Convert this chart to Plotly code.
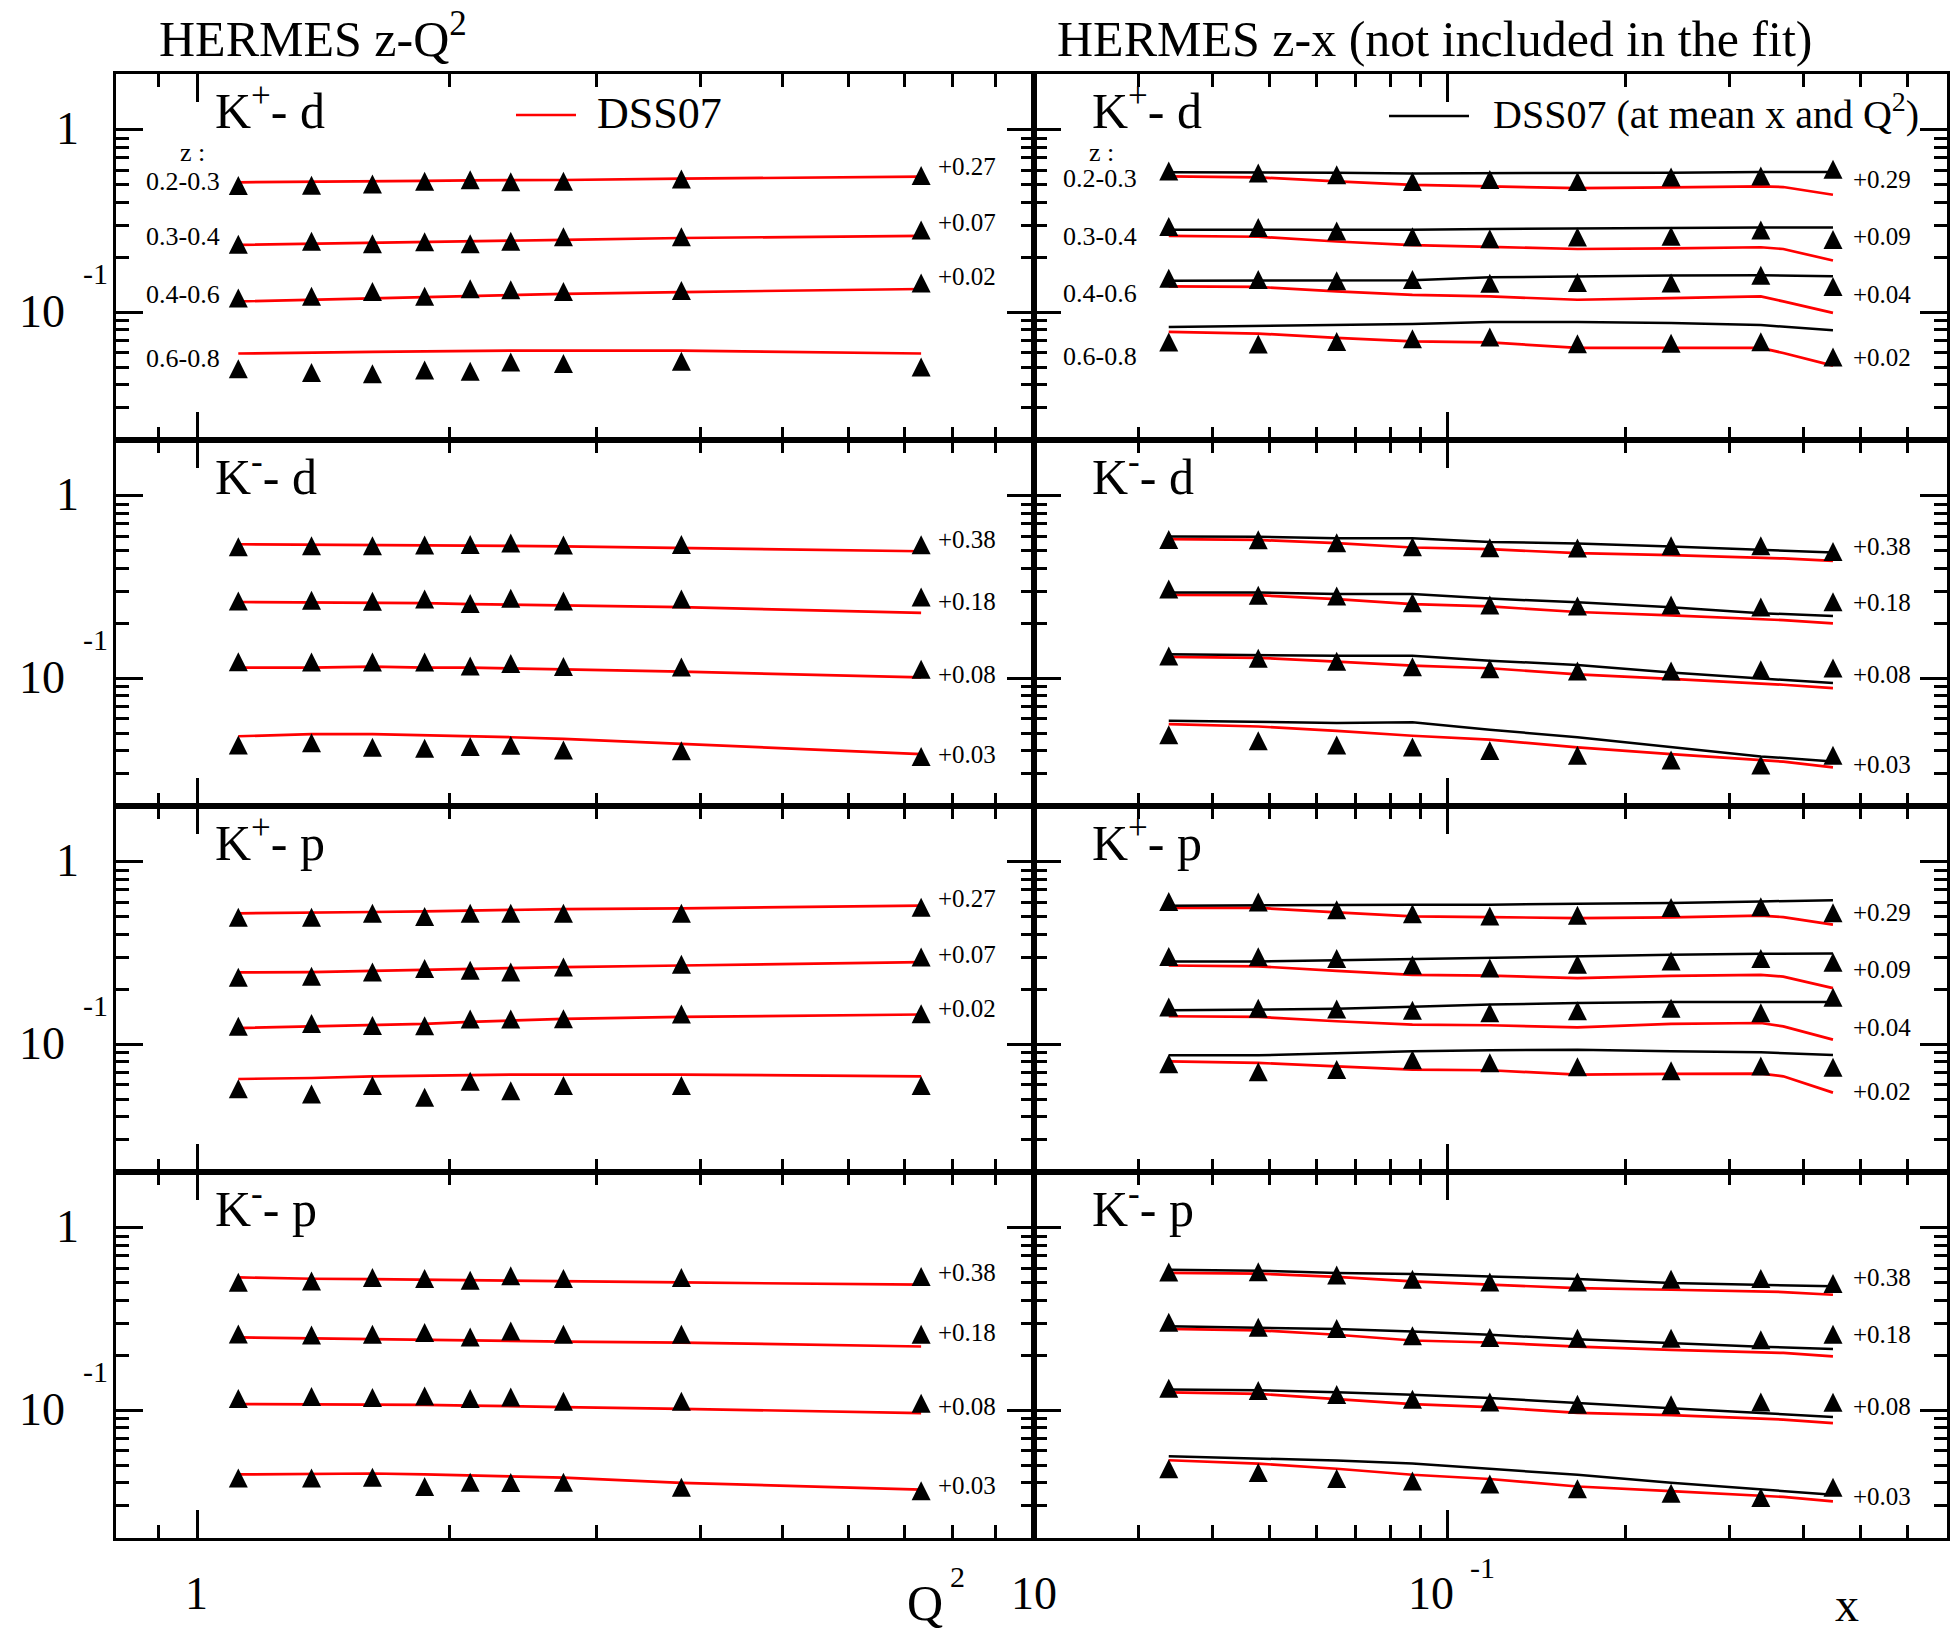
import math
import plotly.graph_objects as go

W, H = 1957, 1631

# ---------------- data ----------------
Q2 = [1.12, 1.37, 1.62, 1.87, 2.12, 2.37, 2.74, 3.79, 7.33]
XB = [0.0338, 0.0479, 0.065, 0.0873, 0.118, 0.166, 0.239, 0.339, 0.449]
XC = [0.0338, 0.0479, 0.065, 0.0873, 0.118, 0.166, 0.239, 0.339, 0.37, 0.449]

ZBINS = ["0.2-0.3", "0.3-0.4", "0.4-0.6", "0.6-0.8"]

# K+ - d, z-Q2
kpd_q2_data = [
    [0.494, 0.496, 0.504, 0.521, 0.532, 0.518, 0.521, 0.537, 0.561],
    [0.236, 0.245, 0.237, 0.243, 0.237, 0.245, 0.259, 0.259, 0.282],
    [0.1195, 0.1223, 0.130, 0.1223, 0.1344, 0.1327, 0.130, 0.1317, 0.1445],
    [0.049, 0.0467, 0.0460, 0.0482, 0.0475, 0.0533, 0.0524, 0.0539, 0.0501],
]
kpd_q2_dss = [
    [0.515, 0.517, 0.519, 0.524, 0.528, 0.528, 0.530, 0.539, 0.553],
    [0.234, 0.237, 0.239, 0.242, 0.244, 0.247, 0.249, 0.255, 0.262],
    [0.1146, 0.117, 0.1195, 0.121, 0.1235, 0.1245, 0.126, 0.129, 0.134],
    [0.0594, 0.0603, 0.0606, 0.0611, 0.0616, 0.0616, 0.0616, 0.0616, 0.0594],
]
# K+ - d, z-x
kpd_x_data = [
    [0.594, 0.579, 0.566, 0.520, 0.533, 0.520, 0.550, 0.558, 0.607],
    [0.295, 0.291, 0.279, 0.259, 0.253, 0.258, 0.261, 0.282, 0.250],
    [0.1535, 0.151, 0.1485, 0.151, 0.1439, 0.1455, 0.1445, 0.1593, 0.1385],
    [0.0686, 0.0669, 0.0692, 0.0715, 0.0731, 0.0672, 0.0676, 0.0689, 0.0569],
]
kpd_x_mean = [
    [0.584, 0.584, 0.581, 0.576, 0.576, 0.579, 0.581, 0.586, 0.586],
    [0.283, 0.283, 0.283, 0.283, 0.286, 0.288, 0.289, 0.291, 0.291],
    [0.1488, 0.1488, 0.1497, 0.1497, 0.1554, 0.1573, 0.1588, 0.1594, 0.1573],
    [0.0831, 0.0843, 0.0850, 0.0861, 0.0883, 0.0883, 0.0872, 0.0850, 0.0796],
]
kpd_x_dss = [
    [0.555, 0.548, 0.521, 0.499, 0.489, 0.479, 0.483, 0.489, 0.485, 0.440],
    [0.262, 0.259, 0.244, 0.233, 0.228, 0.222, 0.224, 0.227, 0.222, 0.192],
    [0.1385, 0.1375, 0.130, 0.1245, 0.122, 0.117, 0.1195, 0.122, 0.1146, 0.0991],
    [0.0780, 0.0764, 0.0723, 0.0693, 0.0684, 0.0637, 0.0637, 0.0637, 0.0598, 0.0510],
]
# K- - d, z-Q2
kmd_q2_data = [
    [0.525, 0.531, 0.531, 0.537, 0.541, 0.550, 0.537, 0.541, 0.539],
    [0.265, 0.267, 0.264, 0.272, 0.257, 0.274, 0.265, 0.272, 0.279],
    [0.1230, 0.1226, 0.1226, 0.1226, 0.1167, 0.1204, 0.1160, 0.1151, 0.1119],
    [0.0431, 0.0443, 0.0418, 0.0413, 0.0422, 0.0429, 0.0404, 0.0401, 0.0372],
]
kmd_q2_dss = [
    [0.542, 0.540, 0.537, 0.535, 0.533, 0.531, 0.527, 0.518, 0.496],
    [0.2616, 0.2597, 0.2597, 0.2576, 0.2546, 0.2526, 0.2517, 0.2452, 0.2281],
    [0.1143, 0.1143, 0.1158, 0.1143, 0.1143, 0.1128, 0.1119, 0.1087, 0.1011],
    [0.0481, 0.0494, 0.0494, 0.0488, 0.0484, 0.0475, 0.0465, 0.0436, 0.0384],
]
# K- - d, z-x
kmd_x_data = [
    [0.576, 0.574, 0.553, 0.525, 0.519, 0.517, 0.531, 0.531, 0.495],
    [0.308, 0.285, 0.282, 0.259, 0.2515, 0.249, 0.2515, 0.2455, 0.262],
    [0.1325, 0.1287, 0.1238, 0.1155, 0.1126, 0.1095, 0.1095, 0.1114, 0.1136],
    [0.0490, 0.0455, 0.0431, 0.0420, 0.0402, 0.0378, 0.0357, 0.0335, 0.0378],
]
kmd_x_mean = [
    [0.598, 0.595, 0.585, 0.585, 0.558, 0.547, 0.527, 0.505, 0.488],
    [0.295, 0.295, 0.289, 0.289, 0.273, 0.2605, 0.245, 0.227, 0.2195],
    [0.1353, 0.1337, 0.1327, 0.1327, 0.1248, 0.1181, 0.1076, 0.0998, 0.0940],
    [0.0585, 0.0578, 0.0569, 0.0574, 0.0522, 0.0475, 0.0418, 0.0373, 0.0350],
]
kmd_x_dss = [
    [0.578, 0.572, 0.549, 0.520, 0.509, 0.484, 0.472, 0.458, 0.453, 0.439],
    [0.286, 0.285, 0.271, 0.2546, 0.2472, 0.2306, 0.2209, 0.2118, 0.2081, 0.1995],
    [0.1310, 0.1294, 0.1232, 0.1172, 0.1134, 0.1051, 0.0993, 0.0941, 0.0921, 0.0883],
    [0.0560, 0.0544, 0.0515, 0.0484, 0.0461, 0.0418, 0.0384, 0.0357, 0.0349, 0.0325],
]
# K+ - p, z-Q2
kpp_q2_data = [
    [0.496, 0.496, 0.522, 0.501, 0.522, 0.522, 0.522, 0.522, 0.563],
    [0.233, 0.236, 0.2485, 0.2595, 0.254, 0.2485, 0.265, 0.274, 0.300],
    [0.1253, 0.1300, 0.1268, 0.1261, 0.1375, 0.1375, 0.1380, 0.1464, 0.1470],
    [0.0570, 0.0533, 0.0595, 0.0512, 0.0626, 0.0556, 0.0595, 0.0595, 0.0595],
]
kpp_q2_dss = [
    [0.521, 0.524, 0.530, 0.534, 0.539, 0.544, 0.550, 0.555, 0.574],
    [0.2472, 0.2484, 0.2525, 0.2557, 0.259, 0.2612, 0.2646, 0.2700, 0.2818],
    [0.1226, 0.1253, 0.1270, 0.1291, 0.1325, 0.1347, 0.1377, 0.1412, 0.1455],
    [0.0645, 0.0653, 0.0667, 0.0673, 0.0679, 0.0682, 0.0682, 0.0682, 0.0667],
]
# K+ - p, z-x
kpp_x_data = [
    [0.605, 0.602, 0.545, 0.518, 0.504, 0.509, 0.561, 0.566, 0.525],
    [0.302, 0.301, 0.295, 0.272, 0.2616, 0.274, 0.286, 0.295, 0.281],
    [0.1598, 0.1574, 0.1558, 0.1533, 0.1485, 0.1526, 0.1572, 0.1485, 0.181],
    [0.0781, 0.0706, 0.0726, 0.0822, 0.0792, 0.0752, 0.0715, 0.0760, 0.0749],
]
kpp_x_mean = [
    [0.574, 0.579, 0.579, 0.581, 0.581, 0.589, 0.594, 0.606, 0.614],
    [0.284, 0.284, 0.288, 0.293, 0.2965, 0.3027, 0.309, 0.313, 0.314],
    [0.1535, 0.1549, 0.1562, 0.1602, 0.1648, 0.1683, 0.1705, 0.1705, 0.1705],
    [0.0869, 0.0869, 0.0891, 0.0915, 0.0926, 0.0934, 0.0915, 0.0903, 0.0872],
]
kpp_x_dss = [
    [0.558, 0.558, 0.527, 0.501, 0.497, 0.491, 0.495, 0.506, 0.497, 0.452],
    [0.270, 0.267, 0.2525, 0.2398, 0.2376, 0.230, 0.2366, 0.2398, 0.2347, 0.203],
    [0.1423, 0.1412, 0.1336, 0.1281, 0.1270, 0.1238, 0.1291, 0.1307, 0.1253, 0.1060],
    [0.0806, 0.0790, 0.0757, 0.0726, 0.0720, 0.0682, 0.0688, 0.0690, 0.0667, 0.0543],
]
# K- - p, z-Q2
kmp_q2_data = [
    [0.503, 0.511, 0.533, 0.527, 0.515, 0.545, 0.527, 0.533, 0.540],
    [0.2616, 0.258, 0.2606, 0.2662, 0.252, 0.2718, 0.2606, 0.2606, 0.2606],
    [0.1158, 0.1189, 0.1173, 0.1197, 0.1158, 0.1182, 0.1119, 0.1119, 0.1093],
    [0.0425, 0.0425, 0.0429, 0.0382, 0.0403, 0.0402, 0.0403, 0.0379, 0.0362],
]
kmp_q2_dss = [
    [0.534, 0.525, 0.523, 0.519, 0.517, 0.515, 0.512, 0.501, 0.487],
    [0.2505, 0.2472, 0.2462, 0.243, 0.2411, 0.240, 0.2377, 0.2346, 0.2234],
    [0.1080, 0.1080, 0.1080, 0.1071, 0.1061, 0.1048, 0.1040, 0.1018, 0.0964],
    [0.0445, 0.0450, 0.0450, 0.0445, 0.0439, 0.0435, 0.0427, 0.0400, 0.0367],
]
# K- - p, z-x
kmp_x_data = [
    [0.571, 0.573, 0.550, 0.521, 0.504, 0.504, 0.522, 0.527, 0.495],
    [0.303, 0.285, 0.280, 0.256, 0.2505, 0.248, 0.248, 0.243, 0.2606],
    [0.1318, 0.1284, 0.1220, 0.1148, 0.1109, 0.1077, 0.1071, 0.1109, 0.1105],
    [0.0478, 0.0456, 0.0423, 0.0410, 0.0394, 0.0371, 0.0351, 0.0333, 0.0378],
]
kmp_x_mean = [
    [0.589, 0.581, 0.565, 0.558, 0.541, 0.523, 0.497, 0.487, 0.477],
    [0.288, 0.282, 0.279, 0.270, 0.259, 0.2447, 0.2330, 0.2228, 0.2166],
    [0.1297, 0.1287, 0.1253, 0.1216, 0.1166, 0.1093, 0.1024, 0.0967, 0.0917],
    [0.0559, 0.0541, 0.0530, 0.0510, 0.0477, 0.0443, 0.0401, 0.0367, 0.0344],
]
kmp_x_dss = [
    [0.565, 0.560, 0.537, 0.508, 0.487, 0.467, 0.457, 0.448, 0.444, 0.429],
    [0.279, 0.274, 0.259, 0.241, 0.235, 0.223, 0.214, 0.207, 0.206, 0.197],
    [0.1253, 0.1230, 0.1151, 0.1080, 0.1040, 0.0967, 0.0939, 0.0901, 0.0889, 0.0850],
    [0.0532, 0.0510, 0.0478, 0.0443, 0.0420, 0.0382, 0.0360, 0.0341, 0.0335, 0.0317],
]

OFFS_KP_Q2 = ["+0.27", "+0.07", "+0.02", ""]
OFFS_KP_X = ["+0.29", "+0.09", "+0.04", "+0.02"]
OFFS_KM = ["+0.38", "+0.18", "+0.08", "+0.03"]

PANEL_LABELS = ["K<sup>+</sup>- d", "K<sup>-</sup>- d", "K<sup>+</sup>- p", "K<sup>-</sup>- p"]

XQ_MAJOR = [1]
XQ_MINOR = [0.9, 2, 3, 4, 5, 6, 7, 8, 9]
XX_MAJOR = [0.1]
XX_MINOR = [0.03, 0.04, 0.05, 0.06, 0.07, 0.08, 0.09, 0.2, 0.3, 0.4, 0.5, 0.6]
Y_MAJOR = [0.1, 1]
Y_MINOR = [0.03, 0.04, 0.05, 0.06, 0.07, 0.08, 0.09, 0.2, 0.3, 0.4, 0.5, 0.6, 0.7, 0.8, 0.9]

# ---------------- layout geometry (pixels) ----------------
FONT = "Liberation Serif"
X_LEFT, X_MID, X_RIGHT = 116, 1034, 1947
Y_TOP, ROW_H = 74, 366
XR_Q2 = [math.log10(0.8), 1.0]
XR_X = [math.log10(0.02), math.log10(0.7)]
YR = [-1.70, 0.305]
PPD = ROW_H / (YR[1] - YR[0])
MSIZE = 19

# offset-label pixel rows (digit centres) per panel [row][col]
OFF_Y = [
    [[167, 223, 277, None], [180, 237, 295, 358]],
    [[540, 602, 675, 755], [547, 603, 675, 765]],
    [[899, 955, 1009, None], [913, 970, 1028, 1092]],
    [[1273, 1333, 1407, 1486], [1278, 1335, 1407, 1497]],
]

panels = [
    (0, 0, Q2, kpd_q2_data, Q2, kpd_q2_dss, None, OFFS_KP_Q2),
    (0, 1, XB, kpd_x_data, XC, kpd_x_dss, kpd_x_mean, OFFS_KP_X),
    (1, 0, Q2, kmd_q2_data, Q2, kmd_q2_dss, None, OFFS_KM),
    (1, 1, XB, kmd_x_data, XC, kmd_x_dss, kmd_x_mean, OFFS_KM),
    (2, 0, Q2, kpp_q2_data, Q2, kpp_q2_dss, None, OFFS_KP_Q2),
    (2, 1, XB, kpp_x_data, XC, kpp_x_dss, kpp_x_mean, OFFS_KP_X),
    (3, 0, Q2, kmp_q2_data, Q2, kmp_q2_dss, None, OFFS_KM),
    (3, 1, XB, kmp_x_data, XC, kmp_x_dss, kmp_x_mean, OFFS_KM),
]

fig = go.Figure()
annotations = []
shapes = []


def px(x):
    return x / W


def txt(x, baseline, text, size, xanchor="left"):
    annotations.append(dict(
        xref="paper", yref="paper", x=px(x), y=1 - (baseline + 0.216 * size + 1) / H,
        xanchor=xanchor, yanchor="bottom", text=text, showarrow=False,
        font=dict(family=FONT, size=size, color="black"),
    ))


layout_axes = {}
for (r, c, xd, yd, xcur, ydss, ymean, offs) in panels:
    k = 2 * r + c + 1
    sfx = "" if k == 1 else str(k)
    xa, ya = "x" + sfx, "y" + sfx
    for i in range(4):
        fig.add_trace(go.Scatter(x=xcur, y=ydss[i], mode="lines",
                                 line=dict(color="#ff0000", width=2.7),
                                 xaxis=xa, yaxis=ya, showlegend=False, hoverinfo="skip"))
        if ymean is not None:
            fig.add_trace(go.Scatter(x=xd, y=ymean[i], mode="lines",
                                     line=dict(color="black", width=2.5),
                                     xaxis=xa, yaxis=ya, showlegend=False, hoverinfo="skip"))
    for i in range(4):
        # an upward triangle centred on the point (arrow turned over, pushed back by its half height)
        fig.add_trace(go.Scatter(x=xd, y=yd[i], mode="markers",
                                 marker=dict(symbol="arrow-down", angle=180, standoff=MSIZE / 2,
                                             size=MSIZE, color="black", line=dict(width=0)),
                                 xaxis=xa, yaxis=ya, showlegend=False))

    top = Y_TOP + ROW_H * r
    bot = top + ROW_H
    xdom = [px(X_LEFT), px(X_MID)] if c == 0 else [px(X_MID), px(X_RIGHT)]
    ydom = [1 - bot / H, 1 - top / H]
    common = dict(showline=True, linecolor="black", linewidth=3, mirror="allticks",
                  ticks="inside", tickwidth=2.5, tickcolor="black", tickmode="array",
                  showticklabels=False, showgrid=False, zeroline=False, type="log")
    layout_axes["xaxis" + sfx] = dict(
        common, domain=xdom, anchor=ya,
        range=XR_Q2 if c == 0 else XR_X,
        tickvals=XQ_MAJOR if c == 0 else XX_MAJOR, ticklen=28,
        minor=dict(tickmode="array", tickvals=XQ_MINOR if c == 0 else XX_MINOR,
                   ticklen=13, tickwidth=2.5, tickcolor="black", ticks="inside", showgrid=False),
    )
    layout_axes["yaxis" + sfx] = dict(
        common, domain=ydom, anchor=xa, range=YR,
        tickvals=Y_MAJOR, ticklen=27,
        minor=dict(tickmode="array", tickvals=Y_MINOR,
                   ticklen=13, tickwidth=2.5, tickcolor="black", ticks="inside", showgrid=False),
    )

    # panel label
    lx = 213 if c == 0 else 1090
    txt(lx, top + 55, PANEL_LABELS[r], 50)
    # offset labels
    ox = 936 if c == 0 else 1851
    for i in range(4):
        yy = OFF_Y[r][c][i]
        if yy is not None and offs[i]:
            txt(ox, yy + 8.5, offs[i], 25)

# y-axis labels for each row
for r in range(4):
    top = Y_TOP + ROW_H * r
    y1 = top + YR[1] * PPD
    y01 = y1 + PPD
    txt(67, y1 + 15.5, "1", 46, "center")
    txt(42, y01 + 15.5, "10", 46, "center")
    txt(95, y01 - 28, "-1", 30, "center")

# z-bin labels (top row only)
for zx, rx, ys in [(192, 222, [183, 238, 296, 360]), (1101, 1139, [180, 238, 295, 358])]:
    txt(zx, 162, "z :", 26, "center")
    for lab, yy in zip(ZBINS, ys):
        txt(rx, yy + 8.8, lab, 26, "right")

# titles
txt(157, 57, "HERMES z-Q<sup>2</sup>", 50)
txt(1055, 57, "HERMES z-x (not included in the fit)", 50)

# legends
shapes.append(dict(type="line", xref="paper", yref="paper", x0=px(516), x1=px(576),
                   y0=1 - 115 / H, y1=1 - 115 / H, line=dict(color="#ff0000", width=2.7)))
txt(595, 129, "DSS07", 44)
shapes.append(dict(type="line", xref="paper", yref="paper", x0=px(1389), x1=px(1469),
                   y0=1 - 116 / H, y1=1 - 116 / H, line=dict(color="black", width=2.5)))
txt(1491, 129, "DSS07 (at mean x and Q<sup>2</sup>)", 40)

# bottom axis labels
txt(196, 1610, "1", 46, "center")
txt(1034, 1610, "10", 46, "center")
txt(1431, 1610, "10", 46, "center")
txt(1482, 1579, "-1", 30, "center")
txt(925, 1621, "Q", 50, "center")
txt(957, 1588, "2", 30, "center")
txt(1847, 1622, "x", 48, "center")

fig.update_layout(
    width=W, height=H, autosize=False,
    margin=dict(l=0, r=0, t=0, b=0, pad=0),
    paper_bgcolor="white", plot_bgcolor="rgba(0,0,0,0)",
    showlegend=False, annotations=annotations, shapes=shapes,
    **layout_axes,
)

fig.write_html("out.html", config={"displayModeBar": False},
               post_script="document.body.style.margin='0';document.body.style.overflow='hidden';")
